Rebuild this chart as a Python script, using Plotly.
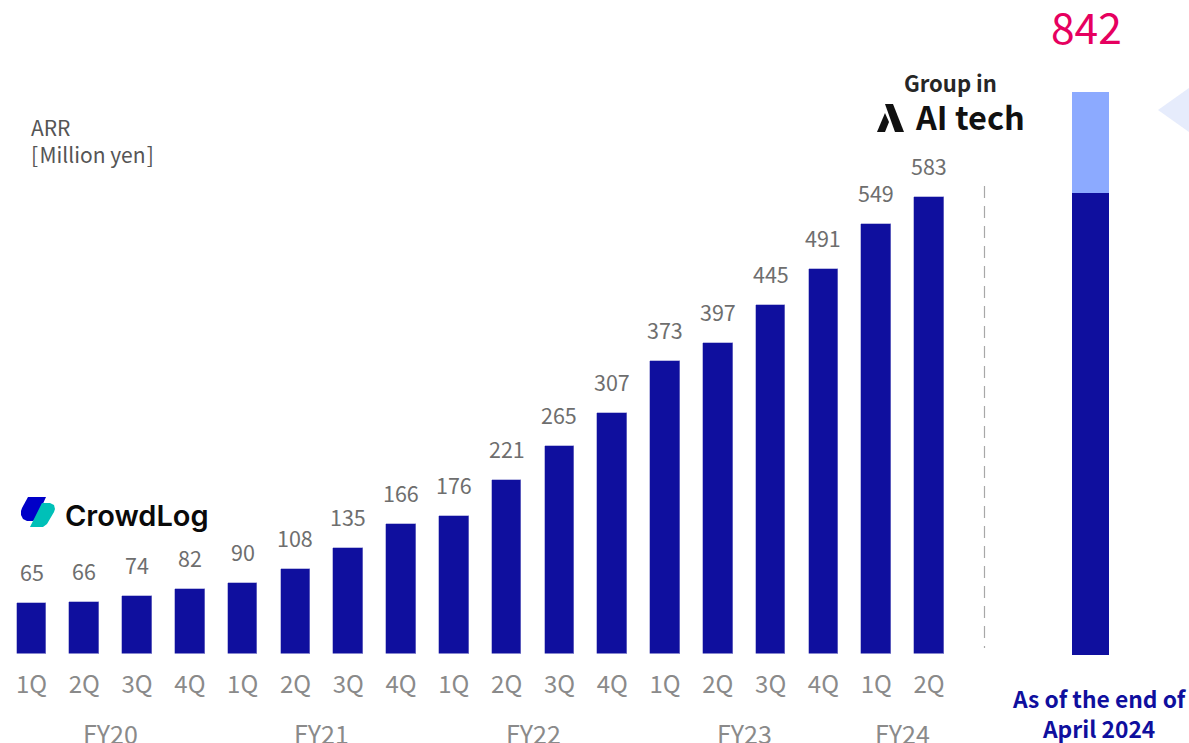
import plotly.graph_objects as go

W, H = 1189, 743

fiscal_years = ["FY20"] * 4 + ["FY21"] * 4 + ["FY22"] * 4 + ["FY23"] * 4 + ["FY24"] * 2
quarters = ["1Q", "2Q", "3Q", "4Q"] * 4 + ["1Q", "2Q"]
arr_values = [65, 66, 74, 82, 90, 108, 135, 166, 176, 221, 265, 307, 373, 397, 445, 491, 549, 583]
april_label = ["April 2024"]
april_crowdlog = [691]
april_aitech = [151]
april_total_label = "842"

NAVY = "#0f0f9e"
LIGHT = "#8caaff"
GREY = "#6e6e6e"
TICK = "#8a8a8a"
FONT = "Noto Sans CJK JP"


def px(x):
    return x / W


def py(y):
    return 1 - y / H


categories = [f"{f} {q}" for f, q in zip(fiscal_years, quarters)]

fig = go.Figure()
fig.add_bar(
    x=categories, y=arr_values, width=0.56,
    marker=dict(color=NAVY, line=dict(color="#8d8dd0", width=0.6)),
    xaxis="x", yaxis="y", showlegend=False, name="ARR",
)
fig.add_bar(
    x=april_label, y=april_crowdlog, width=0.7,
    marker=dict(color=NAVY, line=dict(width=0)),
    xaxis="x2", yaxis="y2", showlegend=False, name="CrowdLog",
)
fig.add_bar(
    x=april_label, y=april_aitech, width=0.7,
    marker=dict(color=LIGHT, line=dict(width=0)),
    xaxis="x2", yaxis="y2", showlegend=False, name="AI tech",
)

annotations = []
for cat, val in zip(categories, arr_values):
    annotations.append(dict(
        x=cat, y=val, xref="x", yref="y", text=str(val), showarrow=False,
        yanchor="middle", yshift=31.5, font=dict(family=FONT, size=21.5, color=GREY),
    ))

seen = []
for f in fiscal_years:
    if f not in seen:
        seen.append(f)
for f in seen:
    idx = [i for i, v in enumerate(fiscal_years) if v == f]
    annotations.append(dict(
        x=sum(idx) / len(idx), y=py(733), xref="x", yref="paper", text=f, showarrow=False,
        yanchor="middle", font=dict(family=FONT, size=25, color=TICK),
    ))


def text(x, y, s, size, color, anchor="center", family=FONT, weight=None):
    annotations.append(dict(
        x=px(x), y=py(y), xref="paper", yref="paper", text=s, showarrow=False,
        xanchor=anchor, yanchor="middle", align=anchor,
        font=dict(family=family, size=size, color=color, weight=weight),
    ))


text(29, 141, "ARR<br>[\u200aMillion yen\u200a]", 21, "#555555", "left")
text(1086, 25.5, april_total_label, 42.5, "#e6005f")
text(950, 81.5, "<b>Group in</b>", 22, "#262626")
text(970, 116, "<b>AI tech</b>", 32.5, "#111111")
text(137, 515, "CrowdLog", 29, "#0a0a0a", family="Inter", weight=600)
text(1099, 713.5, "<b>As of the end of<br>April 2024</b>", 22.8, NAVY)


def poly(points, color):
    d = "M " + " L ".join(f"{px(x):.5f},{py(y):.5f}" for x, y in points) + " Z"
    return dict(type="path", xref="paper", yref="paper", path=d,
                fillcolor=color, line=dict(width=0), layer="above")


shapes = [
    dict(type="line", xref="paper", yref="paper", x0=px(984.5), x1=px(984.5),
         y0=py(186), y1=py(648), line=dict(color="#a8a8a8", width=1.2, dash="12px,8px")),
    poly([(1189, 88), (1158, 110), (1189, 132)], "#e6ecfc"),
    poly([(28, 497), (46, 497), (36, 519), (33, 521), (27, 521), (23, 519), (21, 515), (21, 511), (22, 508)], "#0000c8"),
    poly([(42, 503), (50, 503), (54, 505), (55, 509), (54, 512), (47, 524), (43, 527), (30, 527), (41, 505)], "#00c0b8"),
    poly([(885, 104), (893, 104), (904, 132), (895, 132)], "#111111"),
    poly([(885, 113), (889, 122), (885, 132), (877, 132)], "#111111"),
]

fig.update_layout(
    width=W, height=H, autosize=False,
    margin=dict(l=0, r=0, t=0, b=0),
    paper_bgcolor="white", plot_bgcolor="white",
    barmode="stack", bargap=0,
    annotations=annotations, shapes=shapes,
    xaxis=dict(
        type="category", domain=[px(5.1), px(955.4)], anchor="y", range=[-0.5, 17.5],
        categoryorder="array", categoryarray=categories,
        tickmode="array", tickvals=categories, ticktext=quarters,
        showgrid=False, zeroline=False, showline=False, ticks="outside", ticklen=10,
        tickcolor="rgba(0,0,0,0)", tickfont=dict(family=FONT, size=24, color=TICK),
    ),
    yaxis=dict(
        domain=[py(653.5), 1], range=[0, 834.6], visible=False, fixedrange=True,
    ),
    xaxis2=dict(
        type="category", domain=[px(1064), px(1117)], anchor="y2", visible=False,
    ),
    yaxis2=dict(
        domain=[py(655), 1], range=[0, 979.6], visible=False, anchor="x2", fixedrange=True,
    ),
)

fig.write_html(
    "out.html", config=dict(displayModeBar=False),
    post_script="document.body.style.margin='0';document.body.style.overflow='hidden';",
)
